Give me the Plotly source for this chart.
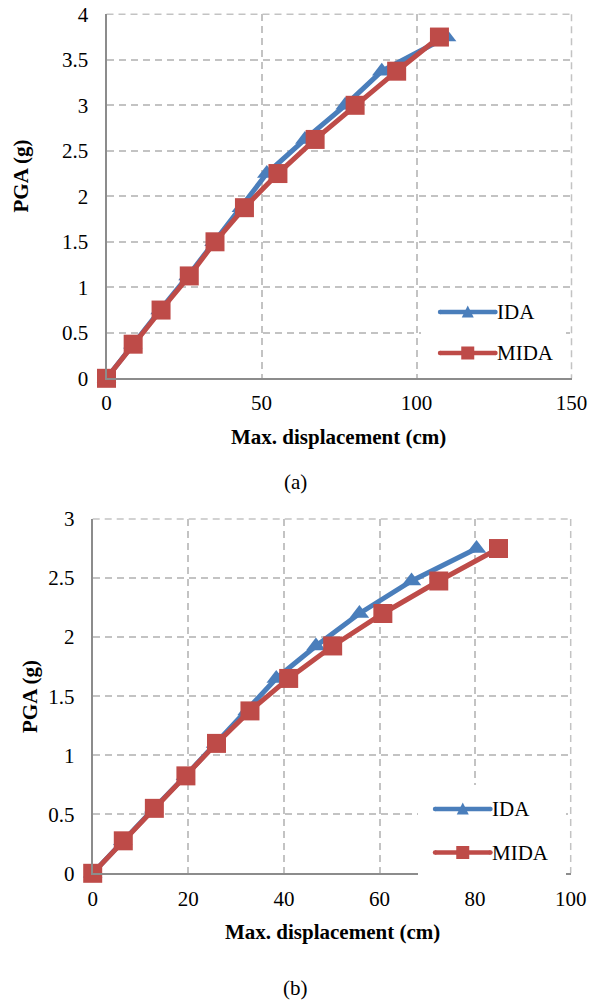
import plotly.graph_objects as go

# (a) upper panel
pga_a = [0, 0.375, 0.75, 1.125, 1.5, 1.875, 2.25, 2.625, 3.0, 3.375, 3.75]
ida_disp_a = [0, 8.5, 17.3, 26.3, 34.7, 43.5, 51.7, 64.0, 77.0, 88.8, 109.7]
mida_disp_a = [0, 8.6, 17.6, 26.7, 35.0, 44.5, 55.3, 67.3, 80.2, 93.6, 107.4]

# (b) lower panel
pga_b = [0, 0.275, 0.55, 0.825, 1.1, 1.375, 1.65, 1.925, 2.2, 2.475, 2.75]
ida_disp_b = [0, 6.3, 12.8, 19.4, 25.7, 32.3, 38.4, 46.7, 55.8, 66.7, 80.3]
mida_disp_b = [0, 6.4, 12.9, 19.5, 25.9, 32.9, 41.0, 50.2, 60.7, 72.4, 84.9]

series_names = ["IDA", "MIDA"]

W, H = 589, 1003
FONT = "Liberation Serif, Times New Roman, serif"
FS = 21
BLUE = "#4a7ebb"
RED = "#be4b48"
GRID = "#c3c3c3"
AXIS = "#8c8c8c"
DASH = "7px,5px"


def px_x(v):
    return v / W


def px_y(v):
    return 1 - v / H


fig = go.Figure()


def add_pair(x_ida, x_mida, y, xa, ya):
    fig.add_trace(go.Scatter(
        x=x_ida, y=y, name=series_names[0], xaxis=xa, yaxis=ya,
        mode="lines+markers", cliponaxis=False, showlegend=False,
        line=dict(color=BLUE, width=5),
        marker=dict(symbol="triangle-up", size=17, color=BLUE)))
    fig.add_trace(go.Scatter(
        x=x_mida, y=y, name=series_names[1], xaxis=xa, yaxis=ya,
        mode="lines+markers", cliponaxis=False, showlegend=False,
        line=dict(color=RED, width=5),
        marker=dict(symbol="square", size=19, color=RED)))


add_pair(ida_disp_a, mida_disp_a, pga_a, "x", "y")
add_pair(ida_disp_b, mida_disp_b, pga_b, "x2", "y2")

tickfont = dict(family=FONT, size=FS, color="black")
common = dict(showgrid=True, gridcolor=GRID, gridwidth=1.5, griddash=DASH,
              zeroline=False, showline=True, linecolor=AXIS, linewidth=2,
              ticks="", tickfont=tickfont, fixedrange=True, automargin=False)

fig.update_layout(
    width=W, height=H,
    margin=dict(l=0, r=0, t=0, b=0, autoexpand=False),
    paper_bgcolor="white", plot_bgcolor="white",
    font=dict(family=FONT, color="black", size=FS),
    showlegend=False,
    xaxis=dict(domain=[px_x(106.5), px_x(571.5)], range=[0, 150], dtick=50,
               anchor="y", ticklabelstandoff=4, **common),
    yaxis=dict(domain=[px_y(378.3), px_y(14.3)], range=[0, 4], dtick=0.5,
               anchor="x", ticklabelstandoff=12, **common),
    xaxis2=dict(domain=[px_x(92.7), px_x(570.7)], range=[0, 100], dtick=20,
                anchor="y2", ticklabelstandoff=5, **common),
    yaxis2=dict(domain=[px_y(873.3), px_y(519)], range=[0, 3], dtick=0.5,
                anchor="x2", ticklabelstandoff=12, **common),
)

# Border dashes along the top and right edges of each panel
for x0, x1, y0, y1 in [(106.5, 571.5, 14.3, 378.3), (92.7, 570.7, 519, 873.3)]:
    fig.add_shape(type="line", xref="paper", yref="paper",
                  x0=px_x(x0), x1=px_x(x1), y0=px_y(y0), y1=px_y(y0),
                  line=dict(color=GRID, width=1.5, dash=DASH), layer="below")
    fig.add_shape(type="line", xref="paper", yref="paper",
                  x0=px_x(x1), x1=px_x(x1), y0=px_y(y0), y1=px_y(y1),
                  line=dict(color=GRID, width=1.5, dash=DASH), layer="below")


def legend_box(box, rows):
    """Legend drawn in page pixels: white box, then a sample line, marker
    and label for each series."""
    bx0, by0, bx1, by1 = box
    fig.add_shape(type="rect", xref="paper", yref="paper", layer="above",
                  x0=px_x(bx0), x1=px_x(bx1), y0=px_y(by1), y1=px_y(by0),
                  fillcolor="white", line=dict(width=0))
    for name, color, symbol, lx0, lx1, ly, tx in rows:
        fig.add_shape(type="line", xref="paper", yref="paper", layer="above",
                      x0=px_x(lx0), x1=px_x(lx1), y0=px_y(ly), y1=px_y(ly),
                      line=dict(color=color, width=4.5))
        for cx in (lx0, lx1):
            fig.add_shape(type="circle", xref="paper", yref="paper",
                          layer="above", x0=px_x(cx - 2.2), x1=px_x(cx + 2.2),
                          y0=px_y(ly + 2.2), y1=px_y(ly - 2.2),
                          fillcolor=color, line=dict(width=0))
        mx = (lx0 + lx1) / 2
        if symbol == "triangle":
            pts = [(mx - 6, ly + 5.5), (mx + 6, ly + 5.5), (mx, ly - 6.5)]
        else:
            pts = [(mx - 6.5, ly - 6.5), (mx + 6.5, ly - 6.5),
                   (mx + 6.5, ly + 6.5), (mx - 6.5, ly + 6.5)]
        path = "M " + " L ".join(f"{px_x(a):.5f},{px_y(b):.5f}" for a, b in pts) + " Z"
        fig.add_shape(type="path", xref="paper", yref="paper", layer="above",
                      path=path, fillcolor=color, line=dict(width=0))
        fig.add_annotation(text=name, x=px_x(tx), y=px_y(ly), xref="paper",
                           yref="paper", showarrow=False, xanchor="left",
                           yanchor="middle", font=dict(family=FONT, size=FS))


legend_box((421, 294, 566, 374), [
    (series_names[0], BLUE, "triangle", 440, 495.5, 312, 495),
    (series_names[1], RED, "square", 440, 495.5, 353, 495),
])
legend_box((418, 785, 566, 876), [
    (series_names[0], BLUE, "triangle", 435, 490.5, 809, 490),
    (series_names[1], RED, "square", 435, 490.5, 852.5, 490),
])

titles = [
    ("PGA (g)", 20.5, 176, -90),
    ("PGA (g)", 30, 697, -90),
    ("Max. displacement (cm)", 338, 437, 0),
    ("Max. displacement (cm)", 332, 932, 0),
]
for text, x, y, ang in titles:
    fig.add_annotation(text="<b>" + text + "</b>", x=px_x(x), y=px_y(y),
                       xref="paper", yref="paper", showarrow=False,
                       xanchor="center", yanchor="middle",
                       textangle=ang, font=dict(family=FONT, size=FS))

for text, x, y in [("(a)", 295, 482), ("(b)", 295, 988)]:
    fig.add_annotation(text=text, x=px_x(x), y=px_y(y), xref="paper",
                       yref="paper", showarrow=False,
                       xanchor="center", yanchor="middle",
                       font=dict(family=FONT, size=FS))

fig.write_html("out.html")
